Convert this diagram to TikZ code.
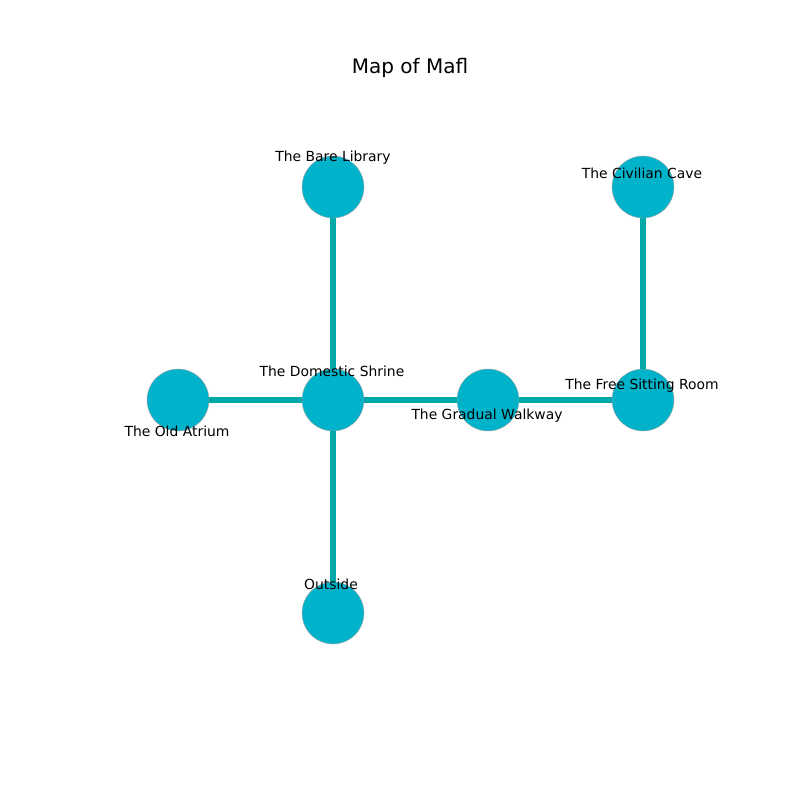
\documentclass[tikz,border=0pt]{standalone}
\usepackage{fontspec}
\setmainfont{DejaVu Sans}
\definecolor{roomfill}{HTML}{00B2CA}
\definecolor{pathcol}{HTML}{00A8A8}
\tikzset{
  room/.style={circle, fill=roomfill, draw=gray!70, line width=0.3pt, minimum size=44.6pt, inner sep=0pt},
  passage/.style={draw=pathcol, line width=3.8pt},
  roomlabel/.style={inner sep=0pt, font=\fontsize{10}{12}\selectfont}
}
\begin{document}
\begin{tikzpicture}[x=0.72pt,y=-0.72pt]
\useasboundingbox (0,0) rectangle (800,800);
\node[font=\fontsize{14.4}{17}\selectfont] (title) at (410,68) {Map of Mafl};
% rooms
\node[room] (library) at (333,187) {};
\node[room] (cave) at (643,187) {};
\node[room] (shrine) at (333,400) {};
\node[room] (atrium) at (178,400) {};
\node[room] (walkway) at (488,400) {};
\node[room] (sitting) at (643,400) {};
\node[room] (outside) at (333,613) {};
% passages
\foreach \a/\b in {shrine/library, shrine/atrium, shrine/walkway, shrine/outside, walkway/sitting, sitting/cave}
\draw[passage] (\a) -- (\b);
% labels
\node[roomlabel] (libraryl) at (333,158) {The Bare Library};
\node[roomlabel] (cavel) at (642,173) {The Civilian Cave};
\node[roomlabel] (shrinel) at (332,371) {The Domestic Shrine};
\node[roomlabel] (atriuml) at (177,431) {The Old Atrium};
\node[roomlabel] (walkwayl) at (487,416) {The Gradual Walkway};
\node[roomlabel] (sittingl) at (642,386) {The Free Sitting Room};
\node[roomlabel] (outsidel) at (331,584) {Outside};
\end{tikzpicture}
\end{document}
